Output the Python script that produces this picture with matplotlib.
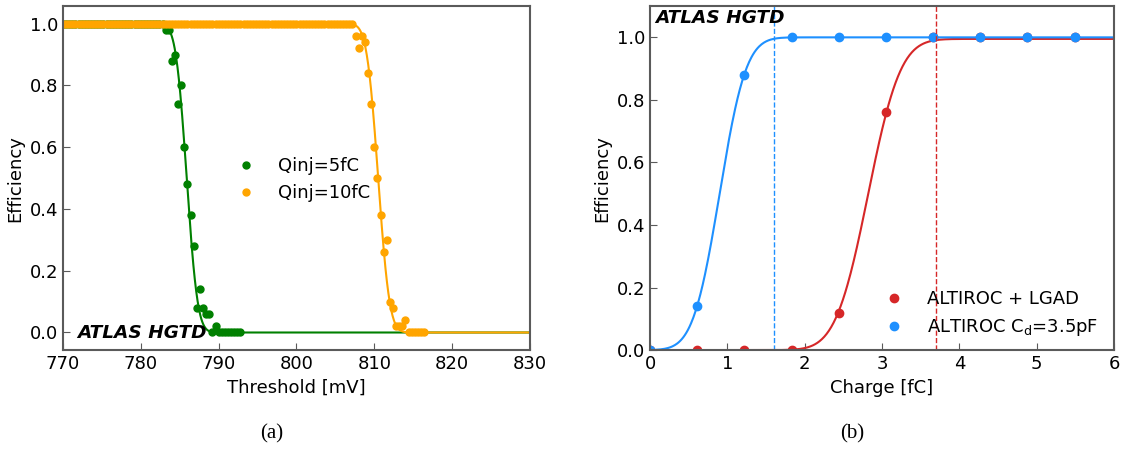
import math
import matplotlib
matplotlib.use("Agg")
import matplotlib.pyplot as plt
import numpy as np

# ---- panel (a): threshold scans ----
step = 0.4
green_plateau = 33          # points at 1.0 from 770 mV
green_drop = [0.98, 0.98, 0.88, 0.90, 0.74, 0.80, 0.60, 0.48, 0.38, 0.28,
              0.08, 0.14, 0.08, 0.06, 0.06, 0.00, 0.02]
green_tail = 8              # points at 0.0 after the drop
orange_plateau = 94
orange_drop = [0.96, 0.92, 0.96, 0.94, 0.84, 0.74, 0.60, 0.50, 0.38, 0.26,
               0.30, 0.10, 0.08, 0.02, 0.02, 0.02, 0.04]
orange_tail = 6
fit_5fC = (785.9, 1.1)      # erf fit: mean, sigma [mV]
fit_10fC = (810.5, 1.15)

# ---- panel (b): charge scans ----
charge = [0.0, 0.61, 1.22, 1.83, 2.44, 3.05, 3.66, 4.27, 4.88, 5.49]
eff_lgad = [0.0, 0.0, 0.0, 0.0, 0.12, 0.76, 1.0, 1.0, 1.0, 1.0]
eff_cd = [0.0, 0.14, 0.88, 1.0, 1.0, 1.0, 1.0, 1.0, 1.0, 1.0]
fit_lgad = (2.82, 0.33, 0.995)   # mean, sigma, plateau
fit_cd = (0.90, 0.27, 1.0)
q99_lgad = 3.7
q99_cd = 1.6

erf = np.vectorize(math.erf)


def build(plateau, drop, tail):
    vals = [1.0] * plateau + drop + [0.0] * tail
    x = np.round(770 + step * np.arange(len(vals)), 1)
    return x, np.array(vals)


dpi = 100
fig = plt.figure(figsize=(1124 / dpi, 450 / dpi), dpi=dpi)
ax1 = fig.add_axes([0.056, 0.222, 0.4155, 0.7645])
ax2 = fig.add_axes([0.5783, 0.222, 0.4128, 0.7645])

fs = 13
spine_col = '#5a5a5a'

# (a)
xa = np.linspace(770, 830, 1000)
gx, gy = build(green_plateau, green_drop, green_tail)
ox, oy = build(orange_plateau, orange_drop, orange_tail)
ax1.plot(xa, 0.5 * (1 - erf((xa - fit_5fC[0]) / (np.sqrt(2) * fit_5fC[1]))),
         color='green', lw=1.5)
ax1.plot(gx, gy, 'o', color='green', ms=5, label='Qinj=5fC')
ax1.plot(xa, 0.5 * (1 - erf((xa - fit_10fC[0]) / (np.sqrt(2) * fit_10fC[1]))),
         color='orange', lw=1.5)
ax1.plot(ox, oy, 'o', color='orange', ms=5, label='Qinj=10fC')
ax1.set_xlim(770, 830)
ax1.set_ylim(-0.057, 1.057)
ax1.set_xticks(np.arange(770, 831, 10))
ax1.set_yticks(np.arange(0, 1.01, 0.2))
ax1.set_xlabel('Threshold [mV]', fontsize=fs)
ax1.set_ylabel('Efficiency', fontsize=fs)
ax1.legend(loc='center', frameon=False, fontsize=fs,
           bbox_to_anchor=(0.505, 0.495))
ax1.text(0.03, 0.05, 'ATLAS HGTD', transform=ax1.transAxes, fontsize=13.3,
         fontweight='bold', fontstyle='italic', va='center')

# (b)
xb = np.linspace(0, 6, 600)
ax2.plot(xb, fit_lgad[2] * 0.5 * (1 + erf((xb - fit_lgad[0]) / (np.sqrt(2) * fit_lgad[1]))),
         color='#d62728', lw=1.5)
ax2.plot(charge, eff_lgad, 'o', color='#d62728', ms=6, label='ALTIROC + LGAD')
ax2.plot(xb, fit_cd[2] * 0.5 * (1 + erf((xb - fit_cd[0]) / (np.sqrt(2) * fit_cd[1]))),
         color='#1e90ff', lw=1.5)
ax2.plot(charge, eff_cd, 'o', color='#1e90ff', ms=6, label=r'ALTIROC C$_\mathregular{d}$=3.5pF')
ax2.axvline(q99_cd, color='#1e90ff', ls='--', lw=1)
ax2.axvline(q99_lgad, color='#d62728', ls='--', lw=1)
ax2.set_xlim(0, 6)
ax2.set_ylim(0, 1.1)
ax2.set_yticks(np.arange(0, 1.01, 0.2))
ax2.set_xlabel('Charge [fC]', fontsize=fs)
ax2.set_ylabel('Efficiency', fontsize=fs)
ax2.legend(loc='lower right', frameon=False, fontsize=fs,
           bbox_to_anchor=(1.0, -0.012))
ax2.text(0.012, 0.965, 'ATLAS HGTD', transform=ax2.transAxes, fontsize=13.3,
         fontweight='bold', fontstyle='italic', va='center')

for ax in (ax1, ax2):
    ax.tick_params(direction='in', labelsize=fs, length=5, color=spine_col)
    ax.yaxis.set_major_formatter(matplotlib.ticker.FormatStrFormatter('%.1f'))
    for s in ax.spines.values():
        s.set_color(spine_col)
        s.set_linewidth(1.5)

fig.text(0.242, 0.036, '(a)', fontsize=15, family='Liberation Serif', ha='center', va='center')
fig.text(0.758, 0.036, '(b)', fontsize=15, family='Liberation Serif', ha='center', va='center')

fig.savefig('out.png', dpi=dpi)
